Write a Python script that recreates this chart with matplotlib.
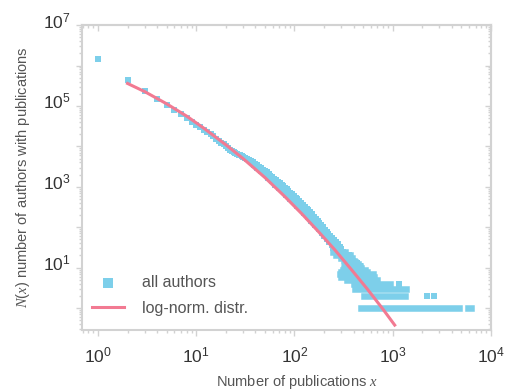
import matplotlib
matplotlib.use("Agg")
import matplotlib.pyplot as plt
from matplotlib.ticker import LogLocator, FuncFormatter, NullFormatter
from matplotlib.transforms import ScaledTranslation
import numpy as np

plt.rcParams['font.family'] = ['Liberation Sans', 'DejaVu Sans']
plt.rcParams['mathtext.fontset'] = 'custom'
plt.rcParams['mathtext.rm'] = 'Liberation Sans'
plt.rcParams['mathtext.it'] = 'Liberation Serif:italic'

# nombre d'auteurs N(x) ayant x publications
x_body = [1, 2, 3, 4, 5, 6, 7, 8, 9, 10, 11, 12, 13, 14, 15, 16, 17, 18, 19, 20,
          21, 22, 23, 24, 25, 26, 27, 28, 29, 30, 31.5, 33, 34.5, 36, 38, 40, 42,
          44, 46, 48, 50, 52, 54.5, 57, 59.5, 62, 65, 68, 71, 74, 77, 80, 83.5,
          87, 91, 95, 99, 103, 107.5, 112, 117, 122, 127.5, 133, 139, 145, 151.5,
          158, 165, 172, 179.5, 187, 195.5, 204, 213, 222, 232, 242, 253, 264,
          276, 288, 301, 314, 328, 342, 357, 372, 398, 430, 464]
n_body = [1.47e6, 4.4e5, 2.37e5, 1.48e5, 1.05e5, 7.8e4, 6.3e4, 4.9e4, 4.0e4,
          3.4e4, 2.94e4, 2.57e4, 2.29e4, 2.03e4, 1.77e4, 1.56e4, 1.39e4, 1.24e4,
          1.12e4, 1.01e4, 9150, 8300, 7840, 7400, 6990, 6600, 6290, 6000, 5740,
          5500, 5190, 4900, 4630, 4380, 4020, 3690, 3410, 3160, 2900, 2670, 2460,
          2270, 2070, 1880, 1730, 1590, 1440, 1310, 1210, 1110, 1020, 944, 865,
          792, 717, 650, 591, 537, 486, 440, 396, 356, 321, 290, 260, 234, 207,
          183, 162, 144, 128, 113, 99, 87, 77, 69, 62, 55, 49, 44, 38, 33, 29,
          25, 23, 21, 20, 19, 15, 13, 11]

# bas de la bande (au contact de la courbe rose)
x_low = [36, 39, 42, 46, 50, 54, 59, 64, 70, 76, 83, 90, 98, 107, 116, 126,
         137, 149, 162, 176, 192, 209, 227, 247, 268]
n_low = [4130, 3500, 2970, 2450, 2020, 1676, 1390, 1140, 935, 766, 627, 512,
         418, 339, 275, 222, 179, 144, 116, 93, 74, 59, 47, 37.5, 30]

# points dispersés sous la bande principale
x_spread = [190, 200, 215, 225, 240, 250, 262, 275, 285, 230, 245, 258]
n_spread = [70, 60, 50, 42, 36, 30, 26, 24, 22, 50, 40, 33]

# lignes horizontales de petits effectifs : N, premier x, dernier x
row_n = [1, 1, 2, 3, 4, 5, 6, 7, 8, 9, 10, 11, 12, 13, 14, 15, 17, 20, 24]
row_x0 = [480, 5900, 516, 415, 400, 340, 300, 290, 300, 310, 320, 330, 330,
          340, 330, 320, 300, 265, 250]
row_x1 = [4720, 6300, 1350, 1380, 930, 700, 640, 630, 550, 520, 480, 464, 440,
          420, 410, 400, 385, 370, 330]

# points isolés de la queue
x_tail = [2230, 2640, 1170]
n_tail = [2, 2, 4]

x_fit = [2, 3, 5, 8, 12, 20, 30, 50, 80, 120, 180, 260, 380, 550, 800, 1050]
n_fit = [3.6e5, 2.25e5, 1.13e5, 5.6e4, 2.8e4, 1.1e4, 5.0e3, 1.7e3, 570, 210,
         73, 27, 9.0, 3.0, 0.93, 0.38]

bleu = '#7dcfea'
rose = '#f27a92'
gris = '#d2d2d2'
ms = 4.7

fig = plt.figure(figsize=(5.06, 3.92), dpi=100)
ax = fig.add_axes([0.162, 0.158, 0.808, 0.778])

ax.scatter(x_body, n_body, marker='s', s=ms ** 2, color=bleu, linewidths=0,
           label='all authors', zorder=2)
ax.scatter(x_low, n_low, marker='s', s=ms ** 2, color=bleu, linewidths=0, zorder=2)
ax.scatter(x_spread, n_spread, marker='s', s=ms ** 2, color=bleu, linewidths=0, zorder=2)
ax.scatter(x_tail, n_tail, marker='s', s=ms ** 2, color=bleu, linewidths=0, zorder=2)
ax.hlines(row_n, row_x0, row_x1, colors=bleu, linewidth=ms, capstyle='projecting', zorder=2)
ax.plot(x_fit, n_fit, color=rose, linewidth=2.2, label='log-norm. distr.', zorder=3)

ax.set_xscale('log')
ax.set_yscale('log')
ax.set_xlim(0.687, 1e4)
ax.set_ylim(0.286, 1e7)

ax.xaxis.set_major_locator(LogLocator(base=10, numticks=20))
ax.yaxis.set_major_locator(LogLocator(base=10, numticks=20))
ax.xaxis.set_minor_locator(LogLocator(base=10, subs=np.arange(2, 10), numticks=100))
ax.yaxis.set_minor_locator(LogLocator(base=10, subs=np.arange(2, 10), numticks=100))
ax.xaxis.set_minor_formatter(NullFormatter())
ax.yaxis.set_minor_formatter(NullFormatter())


def etiquette_x(v, pos):
    return r'$\mathdefault{10^{%d}}$' % int(round(np.log10(v)))


def etiquette_y(v, pos):
    e = int(round(np.log10(v)))
    if e % 2 == 1:
        return r'$\mathdefault{10^{%d}}$' % e
    return ''


ax.xaxis.set_major_formatter(FuncFormatter(etiquette_x))
ax.yaxis.set_major_formatter(FuncFormatter(etiquette_y))

for s in ax.spines.values():
    s.set_color(gris)
    s.set_linewidth(1.5)
ax.tick_params(which='both', direction='out', color=gris, width=1.0,
               labelsize=12.5, labelcolor='#333333')
ax.tick_params(which='major', length=4)
ax.tick_params(which='minor', length=2.5)
ax.tick_params(axis='x', pad=7)
ax.tick_params(axis='y', pad=4)

# étiquettes de l'axe vertical un peu remontées
decalage = ScaledTranslation(0, 4 / 72, fig.dpi_scale_trans)
for lab in ax.get_yticklabels():
    lab.set_transform(lab.get_transform() + decalage)

# graduations vers l'intérieur en haut et à droite
haut = ax.secondary_xaxis('top')
droite = ax.secondary_yaxis('right')
for sec, axe in ((haut, haut.xaxis), (droite, droite.yaxis)):
    axe.set_major_locator(LogLocator(base=10, numticks=20))
    axe.set_minor_locator(LogLocator(base=10, subs=np.arange(2, 10), numticks=100))
    axe.set_major_formatter(NullFormatter())
    axe.set_minor_formatter(NullFormatter())
    sec.tick_params(which='both', direction='in', color=gris, width=1.0)
    sec.tick_params(which='major', length=4)
    sec.tick_params(which='minor', length=2.5)
    for s in sec.spines.values():
        s.set_color(gris)
        s.set_linewidth(1.5)

ax.set_xlabel('Number of publications $x$', fontsize=10.5, color='#555555')
ax.xaxis.set_label_coords(0.525, -0.14)
ax.set_ylabel('$N(x)$ number of authors with publications', fontsize=10.5,
              color='#555555', labelpad=8)

ax.legend(loc='lower left', bbox_to_anchor=(0.01, 0.025), frameon=False,
          fontsize=11.5, markerscale=1.6, handlelength=2.0, handletextpad=1.1,
          labelspacing=0.7, labelcolor='#555555', borderaxespad=0)

fig.savefig('out.png', dpi=100)
